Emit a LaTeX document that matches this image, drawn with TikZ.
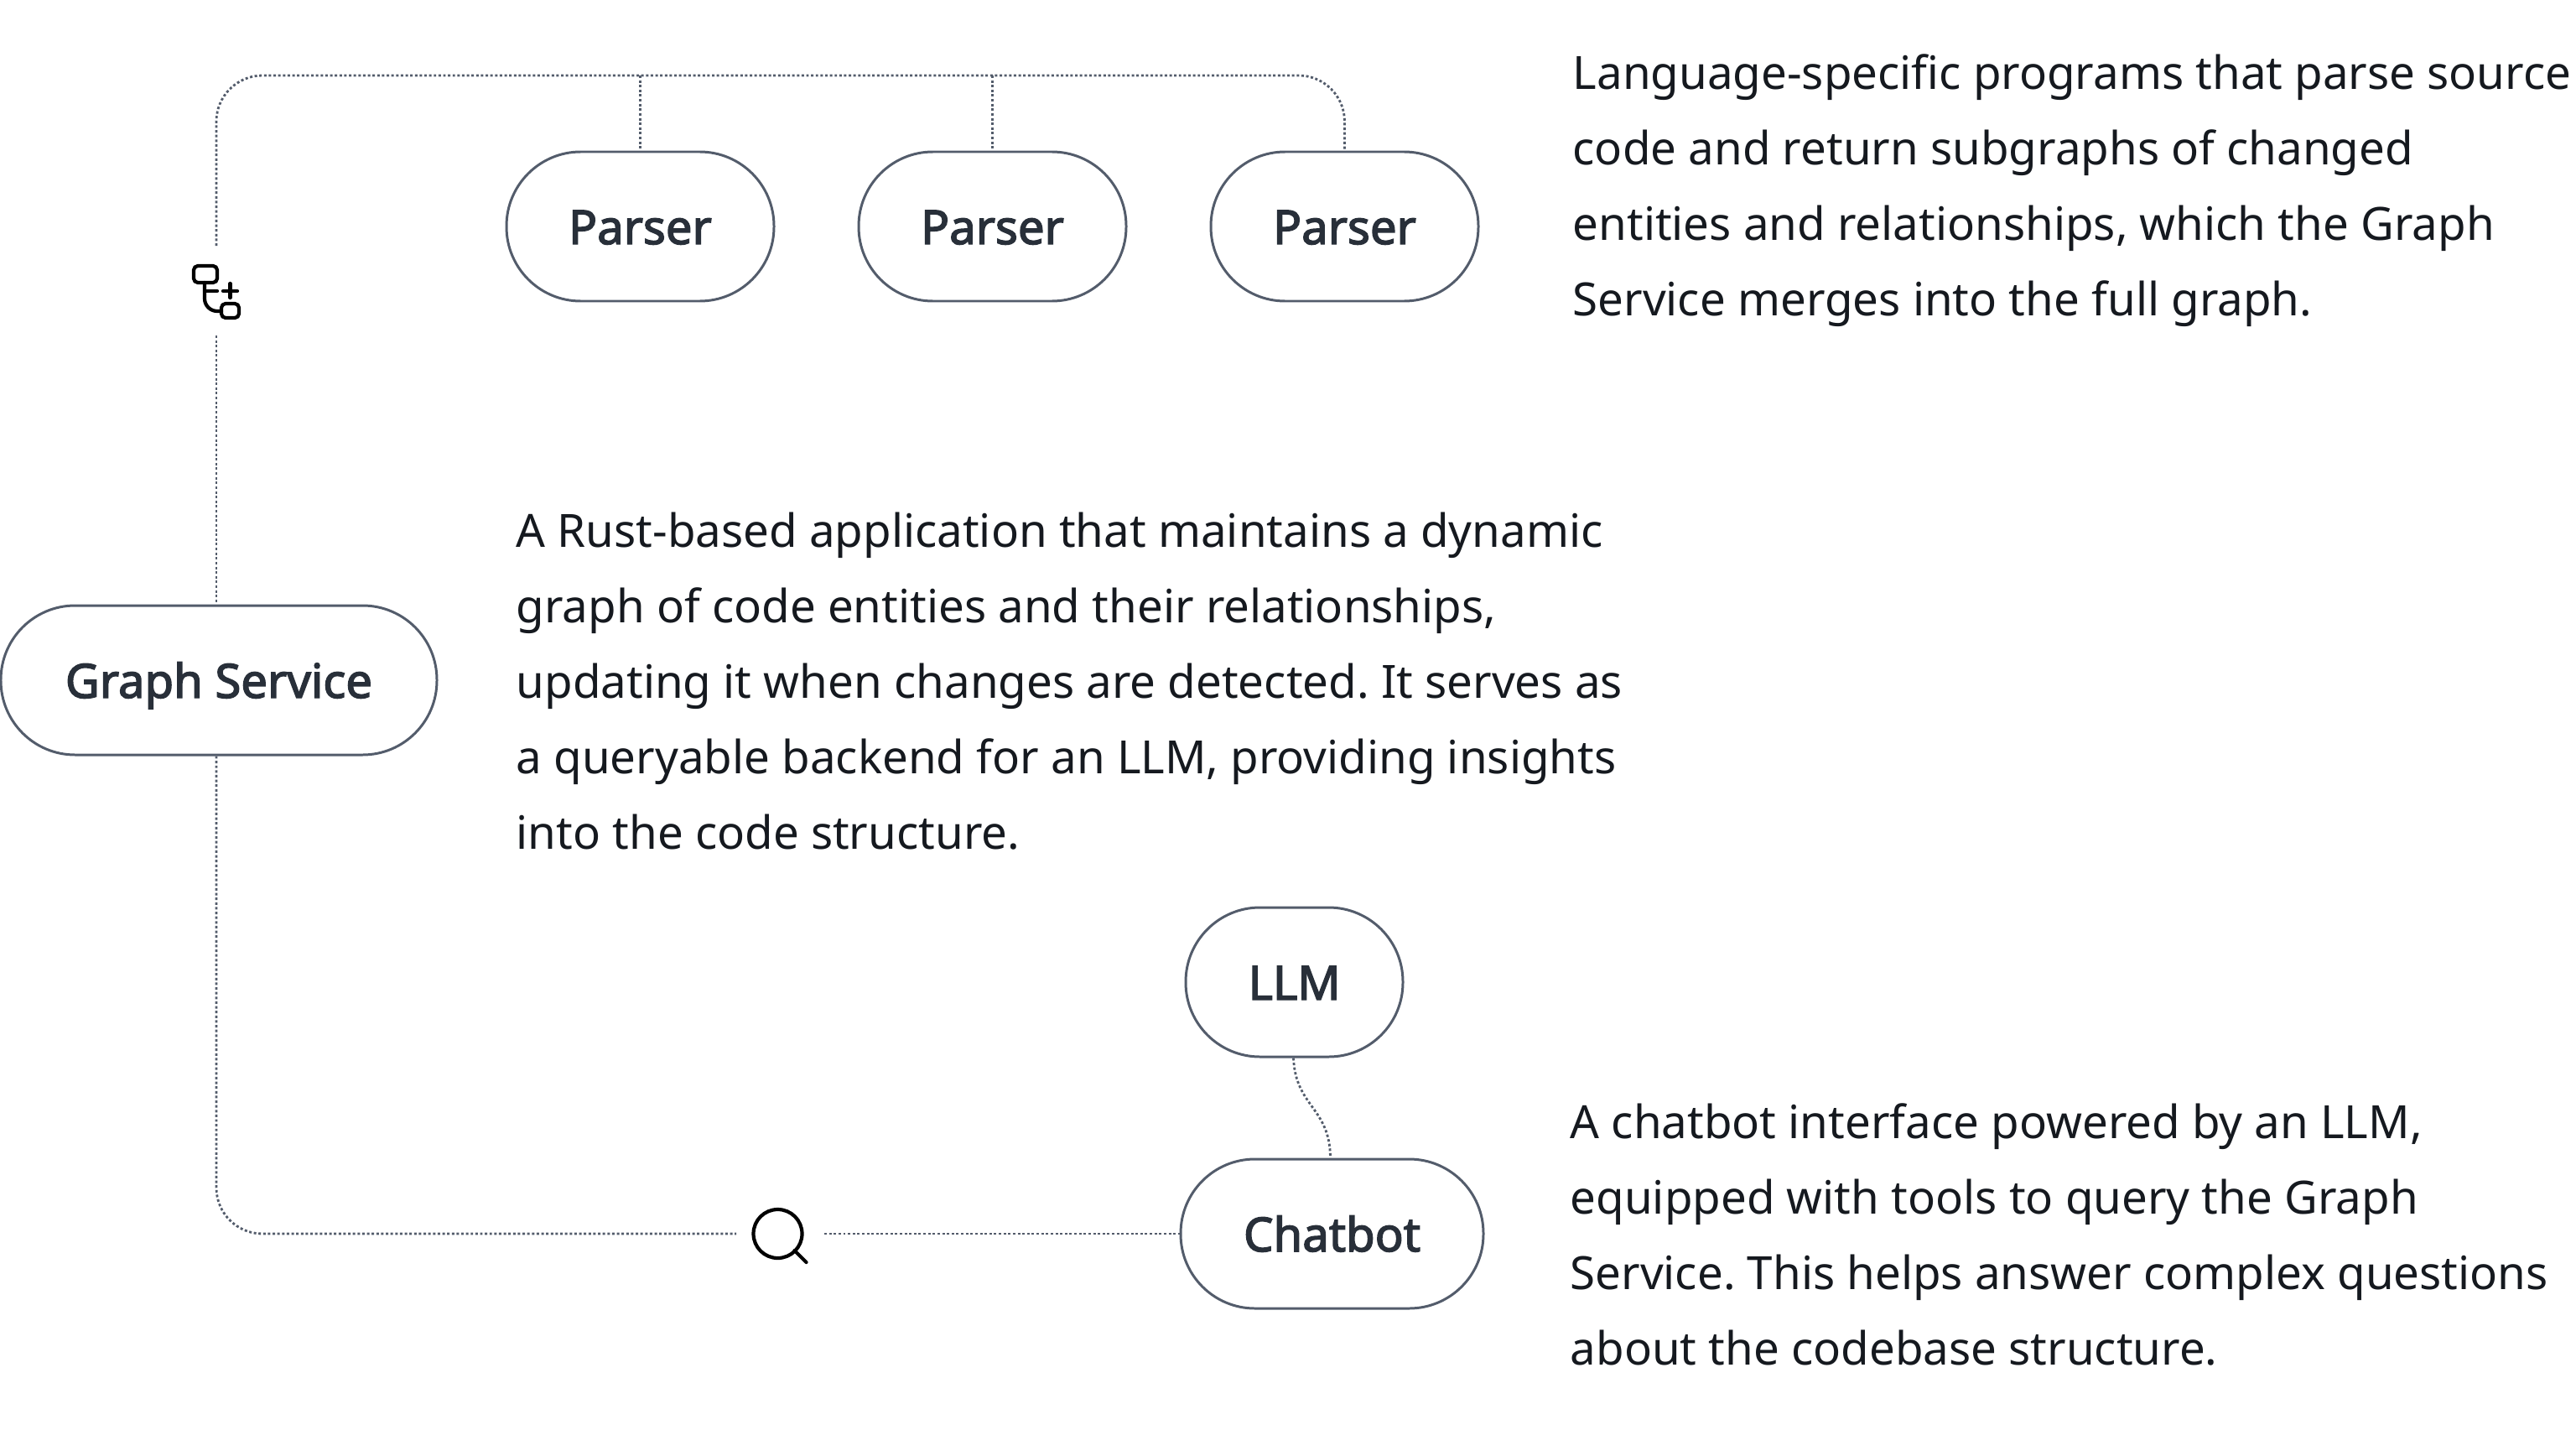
\documentclass[tikz,border=0pt]{standalone}
\usepackage{fontspec}
\setmainfont{Noto Sans}
\newfontfamily\labelfont[FakeBold=2.6]{Noto Sans}
\usepackage{tikz}
\usetikzlibrary{positioning,calc}
\definecolor{edgegrey}{HTML}{535C6B}
\definecolor{labelink}{HTML}{282F39}
\definecolor{bodyink}{HTML}{15191F}
\frenchspacing

\begin{document}
\begin{tikzpicture}[node distance=4.2cm,
    pill/.style={draw=edgegrey,line width=0.85pt,rounded corners=0.885cm,minimum height=1.78cm,inner sep=0pt,text height=0.42cm,text depth=0cm,text=labelink,font=\fontsize{16pt}{18pt}\labelfont},
    wire/.style={draw=edgegrey,line width=0.8pt,dash pattern=on 0.85pt off 0.75pt},
    blurb/.style={anchor=north west,inner sep=0pt,align=left,text=bodyink,font=\fontsize{15.55pt}{25.6pt}\selectfont},
    glyph/.style={draw=black,line width=1.2pt,line cap=round,line join=round}]
    \useasboundingbox (0,0) rectangle (30.72,-17.35);
    \node[pill,minimum width=3.19cm] (parser_a) at (7.635,-2.70) {Parser};
    \node[pill,minimum width=3.19cm,right of=parser_a] (parser_b) {Parser};
    \node[pill,minimum width=3.19cm,right of=parser_b] (parser_c) {Parser};
    \node[pill,minimum width=5.2cm] (graph) at (2.61,-8.11) {Graph Service};
    \node[pill,minimum width=2.59cm] (llm) at (15.435,-11.71) {LLM};
    \node[pill,minimum width=3.61cm] (chatbot) at (15.885,-14.71) {Chatbot};
    %
    \node[blurb] (parser_text) at (18.75,-0.64) {Language-specific programs that parse source\\code and return subgraphs of changed\\entities and relationships, which the Graph\\Service merges into the full graph.};
    \node[blurb] (graph_text) at (6.15,-6.10) {A Rust-based application that maintains a dynamic\\graph of code entities and their relationships,\\updating it when changes are detected. It serves as\\a queryable backend for an LLM, providing insights\\into the code structure.};
    \node[blurb] (chatbot_text) at (18.72,-13.15) {A chatbot interface powered by an LLM,\\equipped with tools to query the Graph\\Service. This helps answer complex questions\\about the codebase structure.};
    %
    \coordinate (bus_left) at (2.58,-0.90);
    \coordinate (bus_right) at (parser_c.north |- bus_left);
    \coordinate (gap_up) at (2.58,-2.93);
    \coordinate (gap_down) at (2.58,-4.00);
    \coordinate (floor_left) at (2.58,-14.71);
    \coordinate (gap_left) at (8.78,-14.71);
    \coordinate (gap_right) at (9.83,-14.71);
    %
    \draw[wire,rounded corners=0.55cm] (gap_up) -- (bus_left) -- (bus_right) -- (parser_c.north);
    \draw[wire] (bus_left -| parser_a.north) -- (parser_a.north);
    \draw[wire] (bus_left -| parser_b.north) -- (parser_b.north);
    \draw[wire] (gap_down) -- (gap_down |- graph.north);
    \draw[wire,rounded corners=0.55cm] (gap_down |- graph.south) -- (floor_left) -- (gap_left);
    \draw[wire] (gap_right) -- (chatbot.west);
    \draw[wire] ($(llm.south)+(-0.01,0)$) .. controls (15.45,-13.20) and (15.86,-13.20) .. ($(chatbot.north)+(-0.02,0)$);
    %
    \draw[glyph,rounded corners=0.05cm] (2.31,-3.17) rectangle (2.59,-3.37);
    \draw[glyph,rounded corners=0.05cm] (2.64,-3.62) rectangle (2.85,-3.79);
    \draw[glyph,rounded corners=0.15cm] (2.44,-3.37) -- (2.44,-3.71) -- (2.64,-3.71);
    \draw[glyph] (2.44,-3.47) -- (2.59,-3.47);
    \draw[glyph] (2.66,-3.47) -- (2.83,-3.47);
    \draw[glyph] (2.745,-3.38) -- (2.745,-3.55);
    %
    \draw[glyph] (9.275,-14.71) circle (0.29);
    \draw[glyph] (9.475,-14.91) -- (9.615,-15.05);
\end{tikzpicture}
\end{document}
